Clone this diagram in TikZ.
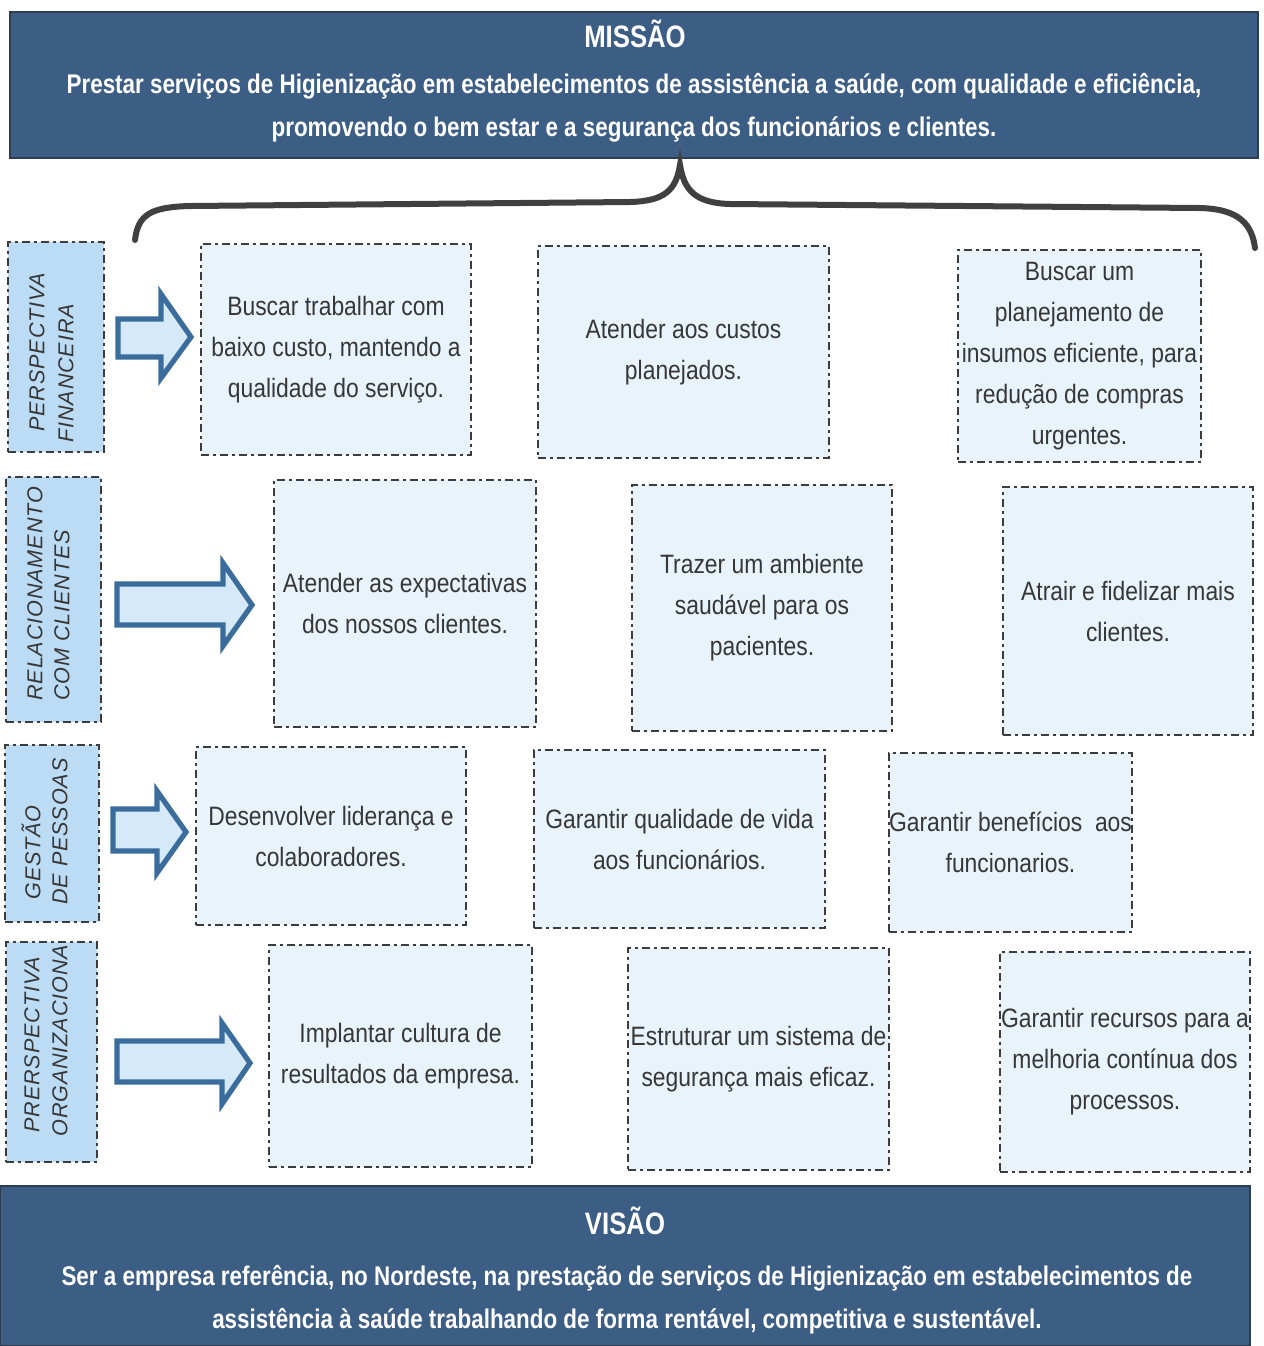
\documentclass[tikz,border=0pt]{standalone}
\usepackage{fontspec}
\setmainfont{Liberation Sans}[FakeStretch=0.86]
\newfontfamily\headfont{Liberation Sans}[FakeStretch=0.83]
\newfontfamily\sidefont{Liberation Sans}[LetterSpace=4]
\usetikzlibrary{fit}
\definecolor{navy}{RGB}{60,94,132}
\definecolor{navyline}{RGB}{45,62,82}
\definecolor{sidefill}{RGB}{188,219,244}
\definecolor{boxfill}{RGB}{232,243,251}
\definecolor{dashcol}{RGB}{60,60,60}
\definecolor{arrline}{RGB}{58,108,156}
\definecolor{arrfill}{RGB}{214,233,249}
\definecolor{txt}{RGB}{55,55,55}
\tikzset{
  banner/.style={fill=navy, draw=navyline, line width=1pt, inner sep=0pt},
  bannertext/.style={text=white, font=\headfont\bfseries\fontsize{13.5}{21.5}\selectfont, align=center, inner sep=0pt},
  bannertitle/.style={text=white, font=\headfont\bfseries\fontsize{15.5}{16}\selectfont, inner sep=0pt},
  goalbox/.style={fill=boxfill, draw=dashcol, line width=0.9pt, dash pattern=on 4pt off 2pt on 1.5pt off 2pt, inner sep=0pt, align=center, text=txt, font=\fontsize{13}{20.5}\selectfont},
  goaltext/.style={align=center, text=txt, font=\fontsize{13.3}{20.5}\selectfont},
  sidebox/.style={fill=sidefill, draw=dashcol, line width=0.9pt, dash pattern=on 4pt off 2pt on 1.5pt off 2pt, inner sep=0pt},
  sidetext/.style={rotate=90, anchor=west, inner sep=0pt, text=txt, font=\sidefont\itshape\fontsize{10.8}{12}\selectfont},
  blockarrow/.style={draw=arrline, fill=arrfill, line width=2.6pt, line join=miter},
  bracestyle/.style={draw=black!75, line width=3pt, line cap=round}
}
\begin{document}
\begin{tikzpicture}[x=0.5pt,y=-0.5pt]
\useasboundingbox (0,0) rectangle (1264,1346);
\fill[white] (0,0) rectangle (1264,1346);

% Mission
\node[banner, fit={(10,12) (1258,158)}] (missao) {};
\node[bannertitle] (missaot) at (635,34) {MISSÃO};
\node[bannertext] (missaotxt) at (634,108) {Prestar serviços de Higienização em estabelecimentos de assistência a saúde, com qualidade e eficiência,\\promovendo o bem estar e a segurança dos funcionários e clientes.};

% Brace
\draw[bracestyle] (135,240) .. controls (138,215) and (150,207) .. (190,206) -- (630,202) .. controls (665,201) and (676,190) .. (680,165) .. controls (684,190) and (695,203) .. (730,204) -- (1200,208) .. controls (1240,209) and (1252,225) .. (1255,248);

% Side labels
\node[sidebox, fit={(8,242) (104,452)}] (s1) {};
\node[sidetext] (s1a) at (37,432) {PERSPECTIVA};
\node[sidetext] (s1b) at (66,443) {FINANCEIRA};
\node[sidebox, fit={(6,477) (101,722)}] (s2) {};
\node[sidetext] (s2a) at (35,701) {RELACIONAMENTO};
\node[sidetext] (s2b) at (62,701) {COM CLIENTES};
\node[sidebox, fit={(5,745) (99,922)}] (s3) {};
\node[sidetext] (s3a) at (31,900) {GESTÃO};
\node[sidetext] (s3b) at (60,905) {DE PESSOAS};
\node[sidebox, fit={(6,942) (97,1162)}] (s4) {};
\begin{scope}
\clip (6,944) rectangle (97,1162);
\node[sidetext] (s4a) at (32,1133) {PRERSPECTIVA};
\node[sidetext] (s4b) at (60,1137) {ORGANIZACIONAL};
\end{scope}

% Block arrows
\draw[blockarrow] (118,319) -- (161,319) -- (161,294) -- (191,337) -- (161,378) -- (161,357) -- (118,357) -- cycle;
\draw[blockarrow] (117,584) -- (223,584) -- (223,563) -- (252,605) -- (223,646) -- (223,625) -- (117,625) -- cycle;
\draw[blockarrow] (113,809) -- (157,809) -- (157,791) -- (186,832) -- (157,873) -- (157,851) -- (113,851) -- cycle;
\draw[blockarrow] (117,1041) -- (222,1041) -- (222,1023) -- (250,1063) -- (222,1104) -- (222,1082) -- (117,1082) -- cycle;

% Goal boxes
\node[goalbox, fit={(201,244) (471,455)}] (b11) {};
\node[goaltext] (t11) at (b11.center) {Buscar trabalhar com\\baixo custo, mantendo a\\qualidade do serviço.};
\node[goalbox, fit={(538,246) (829,458)}] (b12) {};
\node[goaltext] (t12) at (b12.center) {Atender aos custos\\planejados.};
\node[goalbox, fit={(958,250) (1201,462)}] (b13) {};
\node[goaltext] (t13) at (b13.center) {Buscar um\\planejamento de\\insumos eficiente, para\\redução de compras\\urgentes.};

\node[goalbox, fit={(274,480) (536,727)}] (b21) {};
\node[goaltext] (t21) at (b21.center) {Atender as expectativas\\dos nossos clientes.};
\node[goalbox, fit={(632,485) (892,731)}] (b22) {};
\node[goaltext] (t22) at (b22.center) {Trazer um ambiente\\saudável para os\\pacientes.};
\node[goalbox, fit={(1003,487) (1253,735)}] (b23) {};
\node[goaltext] (t23) at (b23.center) {Atrair e fidelizar mais\\clientes.};

\node[goalbox, fit={(196,747) (466,925)}] (b31) {};
\node[goaltext] (t31) at (b31.center) {Desenvolver liderança e\\colaboradores.};
\node[goalbox, fit={(534,750) (825,928)}] (b32) {};
\node[goaltext] (t32) at (b32.center) {Garantir qualidade de vida\\aos funcionários.};
\node[goalbox, fit={(889,753) (1132,932)}] (b33) {};
\node[goaltext] (t33) at (b33.center) {Garantir benefícios\ \ aos\\funcionarios.};

\node[goalbox, fit={(269,945) (532,1167)}] (b41) {};
\node[goaltext] (t41) at (b41.center) {Implantar cultura de\\resultados da empresa.};
\node[goalbox, fit={(628,948) (889,1170)}] (b42) {};
\node[goaltext] (t42) at (b42.center) {Estruturar um sistema de\\segurança mais eficaz.};
\node[goalbox, fit={(1000,952) (1250,1172)}] (b43) {};
\node[goaltext] (t43) at (b43.center) {Garantir recursos para a\\melhoria contínua dos\\processos.};

% Vision
\node[banner, fit={(0,1186) (1250,1346)}] (visao) {};
\node[bannertitle] (visaot) at (625,1221) {VISÃO};
\node[bannertext] (visaotxt) at (627,1300) {Ser a empresa referência, no Nordeste, na prestação de serviços de Higienização em estabelecimentos de\\assistência à saúde trabalhando de forma rentável, competitiva e sustentável.};
\end{tikzpicture}
\end{document}
